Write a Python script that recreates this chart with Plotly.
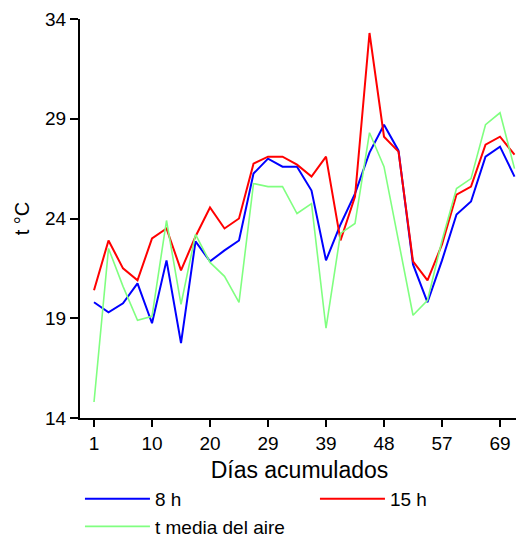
import plotly.graph_objects as go

# Data
tick_labels = ["1", "10", "20", "29", "39", "48", "57", "69"]
h8 = [19.8, 19.3, 19.75, 20.75, 18.75, 21.9, 17.75, 22.85, 21.85, 22.4,
      22.9, 26.25, 27.0, 26.6, 26.6, 25.4, 21.9, 23.7, 25.25, 27.3,
      28.7, 27.4, 21.7, 19.8, 21.9, 24.2, 24.85, 27.1, 27.6, 26.1]
h15 = [20.4, 22.9, 21.5, 20.9, 23.0, 23.5, 21.4, 23.1, 24.55, 23.5,
       24.0, 26.75, 27.1, 27.1, 26.7, 26.1, 27.1, 22.9, 25.1, 33.3,
       28.1, 27.35, 21.85, 20.9, 22.7, 25.2, 25.6, 27.7, 28.1, 27.2]
t_media = [14.8, 22.5, 20.6, 18.9, 19.1, 23.9, 19.7, 23.2, 21.8, 21.1,
           19.8, 25.75, 25.6, 25.6, 24.25, 24.75, 18.5, 23.25, 23.75, 28.3,
           26.6, 22.8, 19.15, 19.9, 22.9, 25.5, 26.0, 28.7, 29.3, 26.5]
y_ticks = [14, 19, 24, 29, 34]

x = list(range(len(h8)))
tick_pos = list(range(0, len(h8), 4))[:len(tick_labels)]

FONT = "Liberation Sans, Arial, sans-serif"
ITEMW = 65

fig = go.Figure()
fig.add_trace(go.Scatter(x=x, y=h8, mode="lines", name="8 h",
                         line=dict(color="#0000ff", width=2)))
fig.add_trace(go.Scatter(x=x, y=h15, mode="lines", name="15 h",
                         line=dict(color="#ff0000", width=2)))
fig.add_trace(go.Scatter(x=x, y=t_media, mode="lines", name="t media del aire",
                         line=dict(color="#80ff80", width=1.6)))

# page has an 8px body margin, so the figure is 8px smaller than the window
fig.update_layout(
    width=516, height=531,
    margin=dict(l=72, r=5, t=11, b=121, autoexpand=False),
    paper_bgcolor="white", plot_bgcolor="white",
    font=dict(family=FONT, size=19, color="black"),
    showlegend=True,
    legend=dict(orientation="h", x=-0.0001, xanchor="left",
                y=-0.155, yanchor="top",
                entrywidth=155, entrywidthmode="pixels", itemwidth=ITEMW,
                font=dict(size=19), tracegroupgap=0, traceorder="normal",
                bgcolor="rgba(0,0,0,0)", borderwidth=0),
)
fig.update_xaxes(
    range=[-0.966, 29.31], tickmode="array", tickvals=tick_pos, ticktext=tick_labels,
    showgrid=False, zeroline=False, showline=True, linecolor="black", linewidth=2,
    ticks="outside", ticklen=7, tickwidth=2, tickcolor="black",
    tickfont=dict(size=19),
    title=dict(text="Días acumulados", font=dict(size=23), standoff=9),
)
fig.update_yaxes(
    range=[14, 34], tickmode="array", tickvals=y_ticks,
    showgrid=False, zeroline=False, showline=True, linecolor="black", linewidth=2,
    ticks="outside", ticklen=8, tickwidth=2, tickcolor="black",
    tickfont=dict(size=19),
    title=dict(text="t °C", font=dict(size=20), standoff=10),
)

fig.write_html("out.html")
